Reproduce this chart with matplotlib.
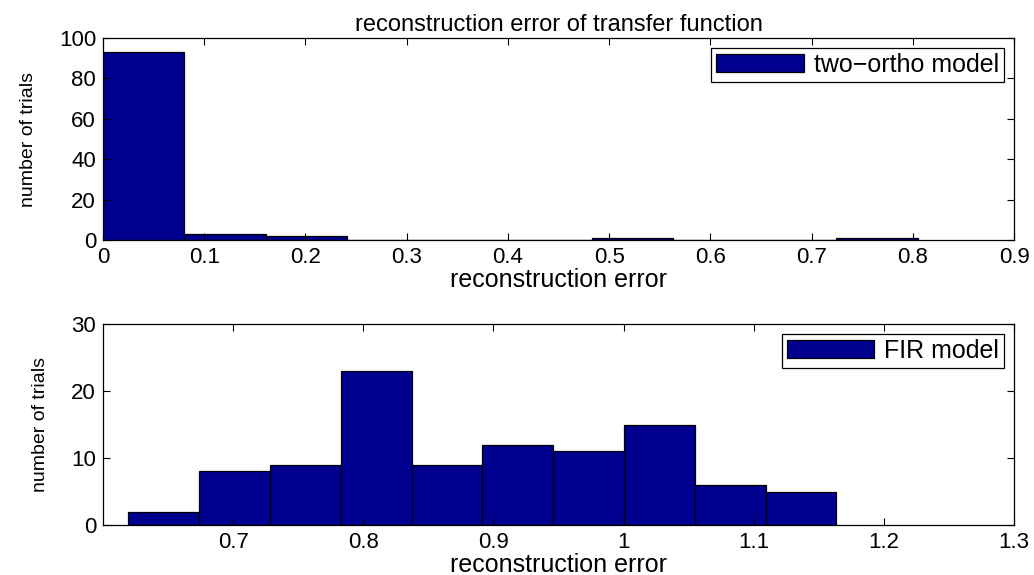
import numpy as np
import matplotlib
matplotlib.use("Agg")
from matplotlib import pyplot as plt

# histogram counts (10 bins each, like matlab hist)
ortho_range = (0.0, 0.805)
ortho_counts = [93, 3, 2, 0, 0, 0, 1, 0, 0, 1]

fir_range = (0.6195, 1.1635)
fir_counts = [2, 8, 9, 23, 9, 12, 11, 15, 6, 5]

ortho_xticks = [0, 0.1, 0.2, 0.3, 0.4, 0.5, 0.6, 0.7, 0.8, 0.9]
ortho_yticks = [0, 20, 40, 60, 80, 100]
fir_xticks = [0.7, 0.8, 0.9, 1.0, 1.1, 1.2, 1.3]
fir_xlabels = ['0.7', '0.8', '0.9', '1', '1.1', '1.2', '1.3']
fir_yticks = [0, 10, 20, 30]

bar_color = '#00008f'

plt.rcParams['font.family'] = ['Liberation Sans', 'DejaVu Sans']
plt.rcParams['xtick.direction'] = 'in'
plt.rcParams['ytick.direction'] = 'in'

fig = plt.figure(figsize=(10.34, 5.75), dpi=100)
W, H = 1034, 575
ax1 = fig.add_axes([103 / W, 1 - 240 / H, (1014 - 103) / W, (240 - 38) / H])
ax2 = fig.add_axes([103 / W, 1 - 525 / H, (1014 - 103) / W, (525 - 324) / H])


def draw_hist(ax, rng, counts, label):
    edges = np.linspace(rng[0], rng[1], len(counts) + 1)
    ax.bar(edges[:-1], counts, width=np.diff(edges), align='edge',
           color=bar_color, edgecolor='black', linewidth=0.9, label=label)
    ax.tick_params(top=True, right=True, length=5, width=0.8,
                   labelsize=16, pad=5)
    for s in ax.spines.values():
        s.set_linewidth(0.9)
    ax.set_xlabel('reconstruction error', fontsize=18, labelpad=0)
    ax.set_ylabel('number of trials', fontsize=14, labelpad=16)
    ax.legend(loc='upper right', fontsize=18, handlelength=3.5,
              handleheight=0.75, fancybox=False, edgecolor='black',
              framealpha=1, borderaxespad=0.4, borderpad=0.2,
              handletextpad=0.4).get_frame().set_linewidth(0.9)


draw_hist(ax1, ortho_range, ortho_counts, 'two\u2212ortho model')
ax1.set_xlim(0, 0.9)
ax1.set_ylim(0, 100)
ax1.set_xticks(ortho_xticks)
ax1.set_xticklabels(['0'] + [f'{t:g}' for t in ortho_xticks[1:]])
ax1.set_yticks(ortho_yticks)
ax1.set_title('reconstruction error of transfer function', fontsize=17, pad=5)

draw_hist(ax2, fir_range, fir_counts, 'FIR model')
ax2.set_xlim(0.6, 1.3)
ax2.set_ylim(0, 30)
ax2.set_xticks(fir_xticks)
ax2.set_xticklabels(fir_xlabels)
ax2.set_yticks(fir_yticks)

fig.savefig('out.png', dpi=100)
